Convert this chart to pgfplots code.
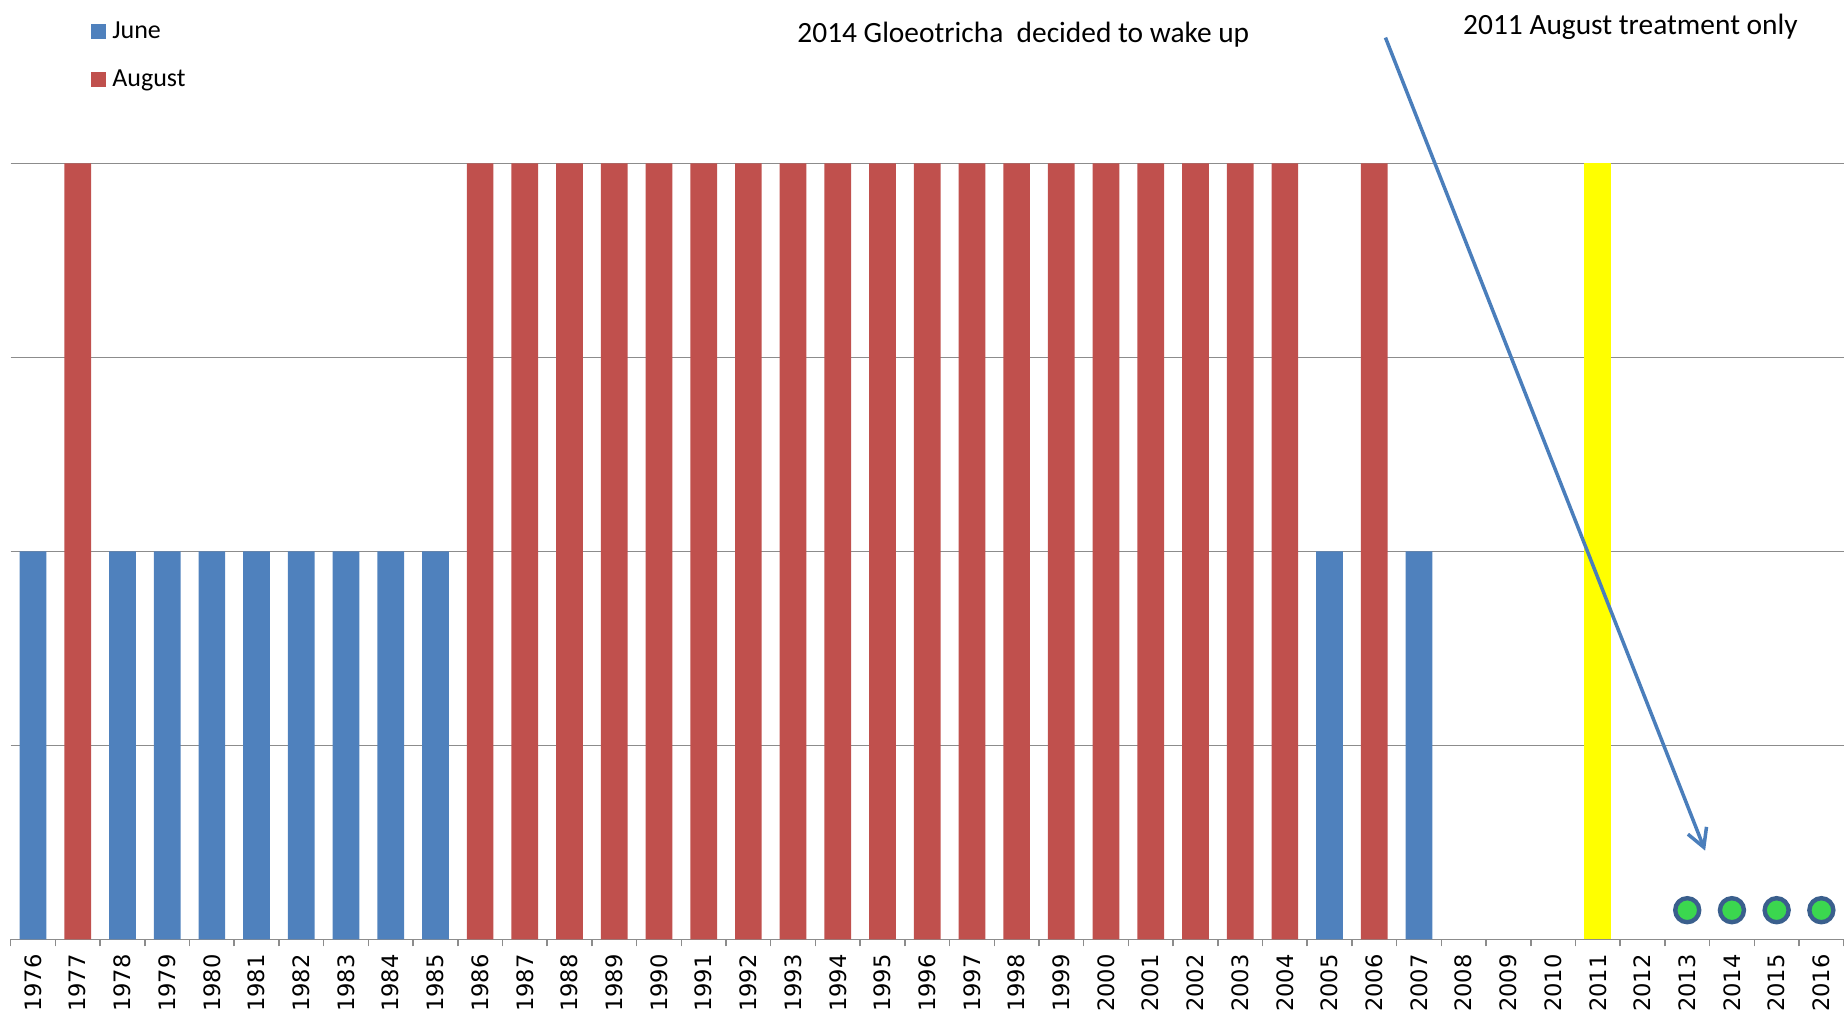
\documentclass[border=0pt]{standalone}
\usepackage{pgfplots}
\pgfplotsset{compat=1.18}
\usepackage{fontspec}
\setmainfont{Carlito}
\newfontfamily\dejavu{DejaVu Sans}
\usetikzlibrary{arrows.meta}
\definecolor{junec}{HTML}{4F81BD}
\definecolor{augc}{HTML}{C0504D}
\definecolor{yelc}{HTML}{FFFF00}
\definecolor{dotfill}{HTML}{3BD74F}
\definecolor{dotedge}{HTML}{3A5F8D}
\definecolor{gridc}{HTML}{8C8C8C}
\definecolor{arrowc}{HTML}{4A7EBB}
\begin{document}
\begin{tikzpicture}
\begin{axis}[
  at={(0,0)}, anchor=south west,
  scale only axis, width=916.5pt, height=388pt,
  xmin=-0.5, xmax=40.5, ymin=0, ymax=4,
  clip=false,
  axis x line*=bottom, axis y line*=left,
  y axis line style={draw=none},
  x axis line style={gridc, line width=0.75pt},
  ytick={0,1,2,3,4}, yticklabels={},
  ymajorgrids, grid style={gridc, line width=0.75pt},
  major tick length=0pt,
  xtick={0,...,40},
  xticklabels={1976,1977,1978,1979,1980,1981,1982,1983,1984,1985,1986,1987,1988,1989,1990,1991,1992,1993,1994,1995,1996,1997,1998,1999,2000,2001,2002,2003,2004,2005,2006,2007,2008,2009,2010,2011,2012,2013,2014,2015,2016},
  minor xtick={-0.5,0.5,...,40.5},
  minor tick length=3.5pt,
  tick align=outside,
  minor x tick style={gridc, line width=0.75pt},
  xticklabel style={rotate=90, anchor=east, font=\dejavu\fontsize{11.3}{13}\selectfont},
  xticklabel shift=4pt,
  legend style={draw=none, fill=none, at={(axis description cs:0.0438,1.185)}, anchor=north west, inner sep=0pt, row sep=12.1pt, font=\fontsize{13}{15}\selectfont, nodes={inner sep=0pt, text height=9pt, text depth=3pt}, /tikz/every odd column/.append style={column sep=3pt}},
  legend image code/.code={\fill[#1] (0pt,-3.5pt) rectangle (7.5pt,4pt);},
  legend cell align=left,
]
\addlegendimage{fill=junec, draw=none}
\addlegendentry{June}
\addlegendimage{fill=augc, draw=none}
\addlegendentry{August}
% June (blue)
\addplot[ybar, bar width=13.35pt, bar shift=0pt, fill=junec, draw=none, forget plot] coordinates {
(0,2) (2,2) (3,2) (4,2) (5,2) (6,2) (7,2) (8,2) (9,2) (29,2) (31,2)};
% August (red)
\addplot[ybar, bar width=13.35pt, bar shift=0pt, fill=augc, draw=none, forget plot] coordinates {
(1,4) (10,4) (11,4) (12,4) (13,4) (14,4) (15,4) (16,4) (17,4) (18,4) (19,4) (20,4) (21,4) (22,4) (23,4) (24,4) (25,4) (26,4) (27,4) (28,4) (30,4)};
% 2011 August treatment
\addplot[ybar, bar width=13.35pt, bar shift=0pt, fill=yelc, draw=none, forget plot] coordinates {(35,4)};
% dots
\addplot[only marks, mark=*, mark size=6pt, mark options={fill=dotfill, draw=dotedge, line width=2.2pt}, forget plot] coordinates {
(37,0.15) (38,0.15) (39,0.15) (40,0.15)};
\draw[arrowc, line width=1.75pt, -{Straight Barb[length=9pt, width=10pt]}] (axis cs:30.25,4.648) -- (axis cs:37.40,0.457);
\node[font=\fontsize{14.7}{17}\selectfont] at (axis cs:22.15,4.665) {2014 Gloeotricha\ \ decided to wake up};
\node[font=\fontsize{14.7}{17}\selectfont] at (axis cs:35.73,4.705) {2011 August treatment only};
\end{axis}
\pgfresetboundingbox
\path[use as bounding box] (-5.35pt,-38.35pt) rectangle (917.15pt,469.65pt);
\end{tikzpicture}
\end{document}
